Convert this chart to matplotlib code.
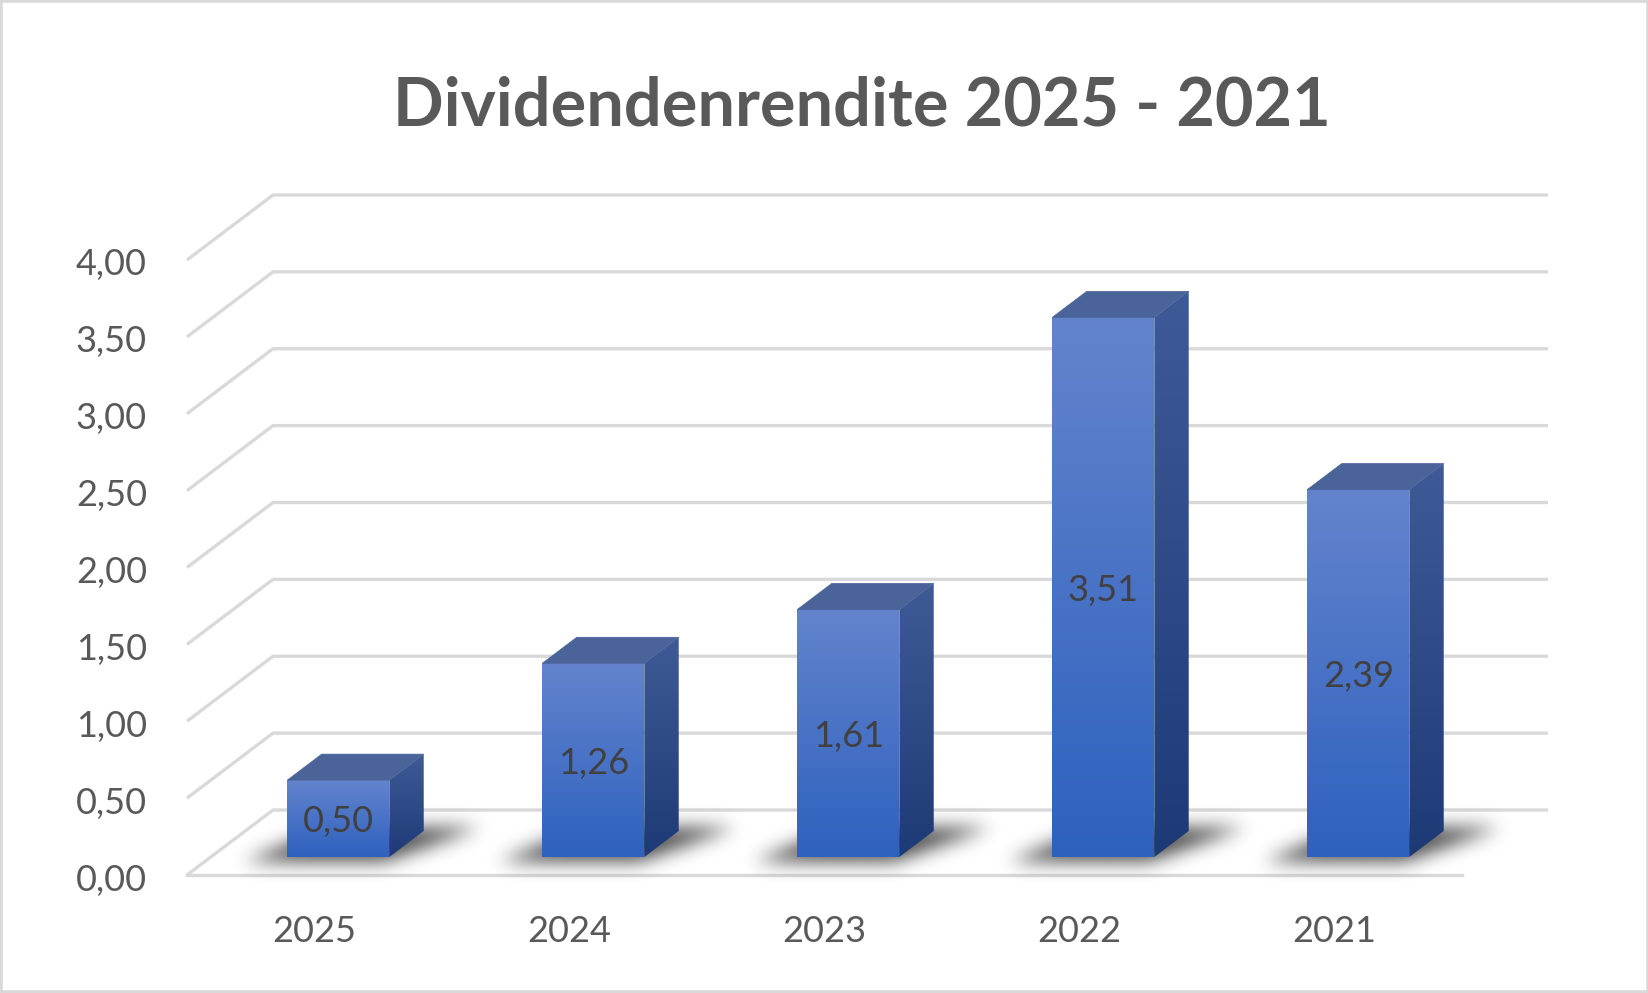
import numpy as np
import matplotlib
matplotlib.use("Agg")
import matplotlib.pyplot as plt
from matplotlib.patches import Polygon, Rectangle
from matplotlib.path import Path
from matplotlib.colors import to_rgb

years = ["2025", "2024", "2023", "2022", "2021"]
rendite = [0.50, 1.26, 1.61, 3.51, 2.39]
yticks = [0, 0.5, 1, 1.5, 2, 2.5, 3, 3.5, 4]
title = "Dividendenrendite 2025 - 2021"

plt.rcParams['font.family'] = ['Lato', 'DejaVu Sans']

W, H = 1649, 993
fig = plt.figure(figsize=(W / 100, H / 100), dpi=100)
ax = fig.add_axes([0, 0, 1, 1])
ax.axis('off')

# pixel layout of the front plane
px_x0, px_cat = 187, 255.0        # x pixel of category 0, pixels per category
px_y0, px_val = 875, 153.75       # y pixel (from top) of value 0, pixels per unit
ax.set_xlim(-px_x0 / px_cat, (W - px_x0) / px_cat)
ax.set_ylim(-(H - px_y0) / px_val, px_y0 / px_val)

# oblique depth offset (full floor depth) in data units
dx, dy = 86 / px_cat, 65 / px_val
f_front, f_back = 0.277, 0.677
n = len(years)

grid_c = '#D9D9D9'
for v in yticks:
    ax.plot([0, dx, n + dx], [v, v + dy, v + dy], color=grid_c, lw=2.4,
            solid_capstyle='butt', zorder=1)
ax.plot([0, n], [0, 0], color=grid_c, lw=2.4, zorder=1)


def blur(a, s):
    r = int(3 * s)
    k = np.exp(-0.5 * (np.arange(-r, r + 1) / s) ** 2)
    k /= k.sum()
    a = np.apply_along_axis(lambda m: np.convolve(m, k, mode='same'), 0, a)
    a = np.apply_along_axis(lambda m: np.convolve(m, k, mode='same'), 1, a)
    return a


def grad(c1, c2, npts=200):
    c1, c2 = np.array(to_rgb(c1)), np.array(to_rgb(c2))
    t = np.linspace(0, 1, npts)[:, None]
    return (c1 * (1 - t) + c2 * t)[:, None, :]


bw = 0.4
ddx, ddy = (f_back - f_front) * dx, (f_back - f_front) * dy
for i, v in enumerate(rendite):
    xl = i + 0.5 - bw / 2 + f_front * dx
    xr = xl + bw
    yb = f_front * dy
    yt = yb + v

    # soft shadow on the floor
    fa, fb = 0.2, 0.74
    sh = [(xl - 0.15 + fa * dx - f_front * dx, fa * dy), (xr + fa * dx - f_front * dx, fa * dy),
          (xr + 0.2 + fb * dx - f_front * dx, fb * dy), (xl + fb * dx - f_front * dx, fb * dy)]
    gx0, gx1 = xl - 0.45, xr + 0.65
    gy0, gy1 = -0.2, dy + 0.15
    nx = int((gx1 - gx0) * px_cat)
    ny = int((gy1 - gy0) * px_val)
    X, Y = np.meshgrid(np.linspace(gx0, gx1, nx), np.linspace(gy0, gy1, ny))
    m = Path(sh).contains_points(np.c_[X.ravel(), Y.ravel()]).reshape(ny, nx).astype(float)
    m = blur(m, 9)
    rgba = np.zeros((ny, nx, 4))
    rgba[..., :3] = 0.1
    rgba[..., 3] = np.clip(m * 0.78, 0, 1)
    ax.imshow(rgba, extent=[gx0, gx1, gy0, gy1], origin='lower', aspect='auto',
              zorder=2, interpolation='bilinear')

    # front face
    ax.imshow(grad('#6384CD', '#2E61BE'), extent=[xl, xr, yb, yt], aspect='auto',
              zorder=3, interpolation='bilinear')
    # side face
    side = Polygon([(xr, yb), (xr + ddx, yb + ddy), (xr + ddx, yt + ddy), (xr, yt)],
                   closed=True, fc='none', ec='none')
    ax.add_patch(side)
    im = ax.imshow(grad('#3F5B97', '#1D3A77'), extent=[xr, xr + ddx, yb, yt + ddy],
                   aspect='auto', zorder=3, interpolation='bilinear')
    im.set_clip_path(side)
    # top face
    ax.add_patch(Polygon([(xl, yt), (xl + ddx, yt + ddy), (xr + ddx, yt + ddy), (xr, yt)],
                         closed=True, fc='#4A6399', ec='#4A6399', lw=0.5, zorder=4))

    ax.text((xl + xr) / 2, yb + v / 2 - 3 / px_val, f"{v:.2f}".replace('.', ','),
            ha='center', va='center', fontsize=26, color='#404040', zorder=5)

for v in yticks:
    ax.text(-40 / px_cat, v - 5 / px_val, f"{v:.2f}".replace('.', ','), ha='right',
            va='center', fontsize=26, color='#595959')
for i, y in enumerate(years):
    ax.text(i + 0.5, -57 / px_val, y, ha='center', va='center', fontsize=26,
            color='#595959')

fig.text(862 / W, 1 - 107 / H, title, ha='center', va='center', fontsize=48,
         fontweight='bold', color='#595959')

fig.patches.append(Rectangle((0, 0), 1, 1, transform=fig.transFigure, fill=False,
                             ec='#D9D9D9', lw=4))

fig.savefig("out.png", dpi=100)
